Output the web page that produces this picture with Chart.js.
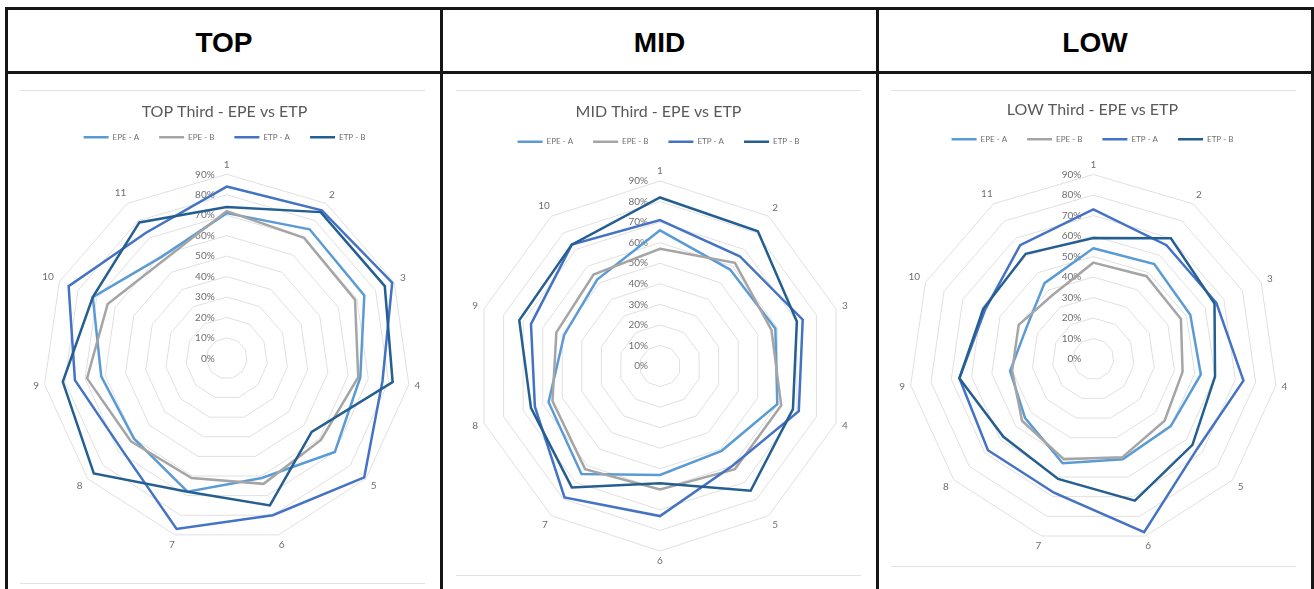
<!DOCTYPE html>
<html>
<head>
<meta charset="utf-8">
<script src="https://cdn.jsdelivr.net/npm/chart.js@4.4.1/dist/chart.umd.min.js"></script>
<style>
  html, body { margin: 0; padding: 0; background: #fff; }
  #page { position: relative; width: 1314px; height: 589px; overflow: hidden; background: #fff; }
  .rule { position: absolute; background: #161616; }
  .head { position: absolute; top: 27px; height: 28px; line-height: 28px; text-align: center;
          font: bold 28px "Liberation Sans", Arial, sans-serif; color: #000; }
  .frame { position: absolute; border-top: 1px solid #e2e2e2; border-bottom: 1px solid #e2e2e2; }
  canvas { position: absolute; }
</style>
</head>
<body>
<div id="page">
  <!-- table rules -->
  <div class="rule" style="left:5px;top:7px;width:1309px;height:3px"></div>
  <div class="rule" style="left:5px;top:71px;width:1309px;height:3px"></div>
  <div class="rule" style="left:5px;top:7px;width:3px;height:582px"></div>
  <div class="rule" style="left:440px;top:7px;width:3px;height:582px"></div>
  <div class="rule" style="left:876px;top:7px;width:3px;height:582px"></div>
  <div class="rule" style="left:1311px;top:7px;width:3px;height:582px"></div>

  <div class="head" style="left:8px;width:432px">TOP</div>
  <div class="head" style="left:443px;width:433px">MID</div>
  <div class="head" style="left:879px;width:432px">LOW</div>

  <div class="frame" style="left:20px;top:90px;width:405px;height:492px"></div>
  <div class="frame" style="left:456px;top:90px;width:405px;height:484px"></div>
  <div class="frame" style="left:891px;top:90px;width:405px;height:475px"></div>

  <canvas id="chartTop" width="405" height="490" style="left:22px;top:91px"></canvas>
  <canvas id="chartMid" width="405" height="482" style="left:456px;top:91px"></canvas>
  <canvas id="chartLow" width="405" height="474" style="left:890px;top:91px"></canvas>
</div>

<script>
// ---- data ----
const seriesNames = ['EPE - A', 'EPE - B', 'ETP - A', 'ETP - B'];
const ringValues = [0, 10, 20, 30, 40, 50, 60, 70, 80, 90];
const ringLabels = ['0%', '10%', '20%', '30%', '40%', '50%', '60%', '70%', '80%', '90%'];

const topCategories = ['1', '2', '3', '4', '5', '6', '7', '8', '9', '10', '11'];
const topEpeA = [71, 75, 74, 66, 70, 61, 68, 60, 62, 72, 59];
const topEpeB = [72, 70, 69, 65, 61, 64, 61, 62, 69, 64, 57];
const topEtpA = [84, 86, 89, 77, 89, 80, 87, 68, 75, 85, 73];
const topEtpB = [74, 85, 85, 82, 55, 75, 68, 86, 81, 72, 79];

const midCategories = ['1', '2', '3', '4', '5', '6', '7', '8', '9', '10'];
const midEpeA = [66, 58, 59, 60, 51, 53, 65, 57, 49, 52];
const midEpeB = [57, 62, 57, 62, 62, 60, 62, 55, 53, 55];
const midEtpA = [71, 66, 73, 71, 60, 73, 79, 64, 66, 73];
const midEtpB = [82, 81, 70, 68, 75, 57, 73, 66, 72, 73];

const lowCategories = ['1', '2', '3', '4', '5', '6', '7', '8', '9', '10', '11'];
const lowEpeA = [54, 55, 52, 53, 50, 51, 53, 44, 41, 36, 44];
const lowEpeB = [47, 48, 47, 44, 46, 50, 51, 46, 40, 40, 37];
const lowEtpA = [73, 66, 66, 74, 67, 88, 68, 68, 66, 58, 66];
const lowEtpB = [59, 70, 65, 60, 64, 72, 61, 58, 66, 59, 61];

// ---- styling ----
const seriesColors = ['#5B9BD5', '#A5A5A5', '#4472C4', '#255E91'];
const textGray = '#6f6f6f';
const uiFont = 'Lato, "Open Sans", sans-serif';

// ring value labels (left of the vertical axis) and category labels round the web
const radarText = {
  id: 'radarText',
  beforeDatasetsDraw(chart) {
    const s = chart.scales.r;
    const ctx = chart.ctx;
    ctx.save();
    ctx.fillStyle = textGray;
    ctx.font = '10px ' + uiFont;
    ctx.textAlign = 'right';
    ctx.textBaseline = 'middle';
    ringValues.forEach((v, i) => {
      ctx.fillText(ringLabels[i], s.xCenter - 12, s.yCenter - s.getDistanceFromCenterForValue(v));
    });
    ctx.textAlign = 'center';
    chart.data.labels.forEach((lab, i) => {
      const w = ctx.measureText(lab).width;
      const h = 10;
      const a = s.getIndexAngle(i) - Math.PI / 2;
      const d = s.drawingArea + 5 + Math.abs(Math.cos(a)) * w / 2 + Math.abs(Math.sin(a)) * h / 2;
      const p = s.getPointPosition(i, d);
      ctx.fillText(lab, p.x, p.y);
    });
    ctx.restore();
  }
};

function buildRadar(canvasId, title, categories, values, geom) {
  const datasets = seriesNames.map((name, k) => ({
    label: name,
    data: values[k],
    borderColor: seriesColors[k],
    backgroundColor: seriesColors[k],
    borderWidth: 2.5,
    pointRadius: 0,
    pointHoverRadius: 0,
    fill: false,
    tension: 0,
    order: seriesNames.length - k
  }));

  return new Chart(document.getElementById(canvasId), {
    type: 'radar',
    data: { labels: categories, datasets },
    options: {
      responsive: false,
      animation: false,
      devicePixelRatio: 1,
      layout: { padding: 0 },
      plugins: {
        title: {
          display: true,
          text: title,
          color: '#595959',
          font: { family: uiFont, size: 16, weight: 'normal' },
          padding: { top: geom.titleTop, bottom: geom.titleBottom }
        },
        legend: {
          display: true,
          position: 'top',
          labels: {
            usePointStyle: true,
            pointStyle: 'line',
            pointStyleWidth: 25,
            padding: 20,
            color: textGray,
            font: { family: uiFont, size: 8 },
            sort: (a, b) => a.datasetIndex - b.datasetIndex
          }
        },
        tooltip: { enabled: false }
      },
      scales: {
        r: {
          min: 0,
          max: 90,
          ticks: { display: false, stepSize: 10 },
          pointLabels: { display: false },
          angleLines: { display: false },
          grid: { circular: false, color: '#e0e0e0', lineWidth: 1 },
          afterFit: (scale) => {
            scale.xCenter = geom.cx;
            scale.yCenter = geom.cy;
            scale.drawingArea = geom.r;
          }
        }
      }
    },
    plugins: [radarText]
  });
}

buildRadar('chartTop', 'TOP Third - EPE vs ETP', topCategories,
  [topEpeA, topEpeB, topEtpA, topEtpB],
  { cx: 204.7, cy: 267.3, r: 184, titleTop: 11, titleBottom: -8 });

buildRadar('chartMid', 'MID Third - EPE vs ETP', midCategories,
  [midEpeA, midEpeB, midEtpA, midEtpB],
  { cx: 204, cy: 275, r: 185, titleTop: 11, titleBottom: -3.5 });

buildRadar('chartLow', 'LOW Third - EPE vs ETP', lowCategories,
  [lowEpeA, lowEpeB, lowEtpA, lowEtpB],
  { cx: 203.3, cy: 268, r: 184.5, titleTop: 9.5, titleBottom: -4.5 });
</script>
</body>
</html>
